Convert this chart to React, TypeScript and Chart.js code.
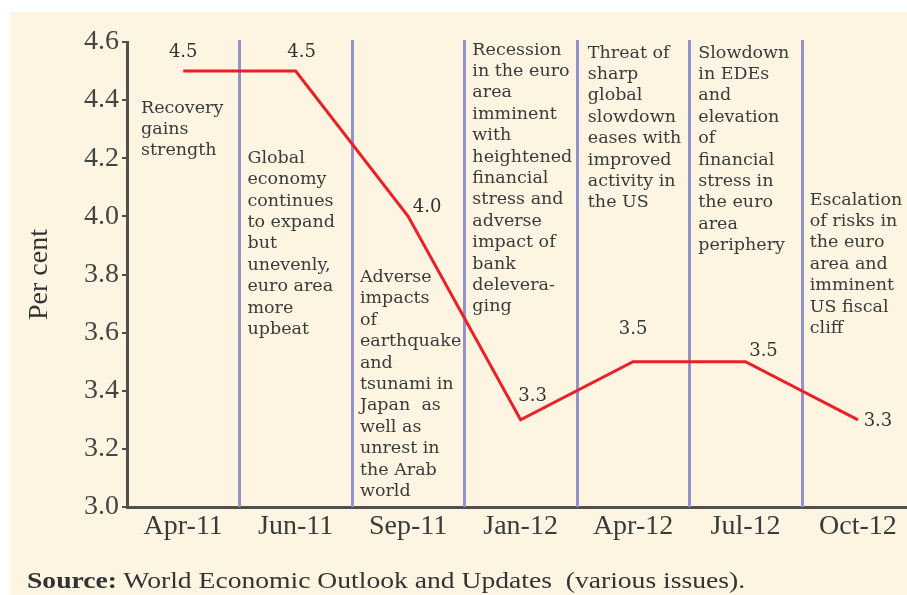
import React, { useEffect, useRef } from "react";
import { Chart, registerables } from "chart.js";

Chart.register(...registerables);

const categories = ["Apr-11", "Jun-11", "Sep-11", "Jan-12", "Apr-12", "Jul-12", "Oct-12"];
const growth = [4.5, 4.5, 4.0, 3.3, 3.5, 3.5, 3.3];
const valueLabels = ["4.5", "4.5", "4.0", "3.3", "3.5", "3.5", "3.3"];
const yTicks = [3.0, 3.2, 3.4, 3.6, 3.8, 4.0, 4.2, 4.4, 4.6];

const annotations: string[][] = [
  ["Recovery", "gains", "strength"],
  ["Global", "economy", "continues", "to expand", "but", "unevenly,", "euro area", "more", "upbeat"],
  ["Adverse", "impacts", "of", "earthquake", "and", "tsunami in", "Japan  as", "well as", "unrest in", "the Arab", "world"],
  ["Recession", "in the euro", "area", "imminent", "with", "heightened", "financial", "stress and", "adverse", "impact of", "bank", "delevera-", "ging"],
  ["Threat of", "sharp", "global", "slowdown", "eases with", "improved", "activity in", "the US"],
  ["Slowdown", "in EDEs", "and", "elevation", "of", "financial", "stress in", "the euro", "area", "periphery"],
  ["Escalation", "of risks in", "the euro", "area and", "imminent", "US fiscal", "cliff"],
];

// y-value (per cent) at which the first line of each annotation sits
const annotationTop = [4.373, 4.2, 3.79, 4.572, 4.562, 4.562, 4.056];
// placement tweaks (pixels) — layout only
const annotationIndent = [14, 8, 8, 8, 11, 9, 8];
const labelOffsets: [number, number][] = [
  [0, -19],
  [6, -19],
  [19, -9],
  [12, -23],
  [0, -32],
  [18, -10],
  [20, 2],
];

const CREAM = "#fdf5e2";

const overlayPlugin = {
  id: "overlay",
  beforeDatasetsDraw(chart: any) {
    const { ctx, chartArea, scales } = chart;
    const x = scales.x;
    const y = scales.y;
    ctx.save();
    ctx.strokeStyle = "#9393c7";
    ctx.lineWidth = 3;
    for (let i = 0; i < categories.length - 1; i++) {
      const px = Math.round(x.getPixelForValue(i + 0.5)) + 0.5;
      ctx.beginPath();
      ctx.moveTo(px, chartArea.top - 2);
      ctx.lineTo(px, chartArea.bottom);
      ctx.stroke();
    }
    ctx.font = '17.5px "DejaVu Serif"';
    ctx.fillStyle = "#3a3a3a";
    ctx.textBaseline = "middle";
    ctx.textAlign = "left";
    annotations.forEach((lines, i) => {
      const px = x.getPixelForValue(i - 0.5) + annotationIndent[i];
      const py0 = y.getPixelForValue(annotationTop[i]);
      lines.forEach((line, j) => ctx.fillText(line, px, py0 + j * 21.4));
    });
    ctx.restore();
  },
  afterDatasetsDraw(chart: any) {
    const { ctx } = chart;
    const meta = chart.getDatasetMeta(0);
    ctx.save();
    ctx.font = '18px "DejaVu Serif"';
    ctx.fillStyle = "#333";
    ctx.textBaseline = "middle";
    ctx.textAlign = "center";
    meta.data.forEach((pt: any, i: number) => {
      const [dx, dy] = labelOffsets[i];
      ctx.fillText(valueLabels[i], pt.x + dx, pt.y + dy);
    });
    ctx.restore();
  },
};

export default function App() {
  const canvasRef = useRef<HTMLCanvasElement | null>(null);

  useEffect(() => {
    if (!canvasRef.current) return;
    const chart = new Chart(canvasRef.current, {
      type: "line",
      data: {
        datasets: [
          {
            data: growth.map((v, i) => ({ x: i, y: v })),
            borderColor: "#ec1f27",
            borderWidth: 3,
            pointRadius: 0,
            tension: 0,
            fill: false,
          },
        ],
      },
      options: {
        animation: false,
        responsive: false,
        maintainAspectRatio: false,
        layout: { padding: { top: 42, left: 0, right: 0, bottom: 0 } },
        plugins: { legend: { display: false }, tooltip: { enabled: false } },
        scales: {
          x: {
            type: "linear",
            min: -0.5,
            max: 6.436,
            afterBuildTicks: (scale: any) => {
              scale.ticks = categories.map((_, i) => ({ value: i }));
            },
            afterFit: (scale: any) => {
              scale.height = 88;
            },
            ticks: {
              callback: (v: any) => categories[v as number] ?? "",
              font: { family: "Liberation Serif", size: 28 },
              color: "#3a3a3a",
              padding: 3,
              maxRotation: 0,
              autoSkip: false,
            },
            grid: { display: false, drawTicks: false },
            border: { display: true, color: "#4f4f4f", width: 3 },
          },
          y: {
            min: 3.0,
            max: 4.6,
            afterBuildTicks: (scale: any) => {
              scale.ticks = yTicks.map((v) => ({ value: v }));
            },
            afterFit: (scale: any) => {
              scale.width = 127;
            },
            ticks: {
              callback: (v: any) => Number(v).toFixed(1),
              font: { family: "Liberation Serif", size: 28 },
              color: "#444",
              padding: 3,
            },
            grid: {
              display: true,
              drawOnChartArea: false,
              drawTicks: true,
              tickLength: 5,
              color: "#4f4f4f",
              lineWidth: 2,
            },
            border: { display: true, color: "#4f4f4f", width: 3 },
            title: {
              display: true,
              text: "Per cent",
              font: { family: "Liberation Serif", size: 28 },
              color: "#333",
              padding: { top: 23, bottom: 0 },
            },
          },
        },
      },
      plugins: [overlayPlugin],
    });
    return () => chart.destroy();
  }, []);

  return (
    <div style={{ position: "absolute", left: 0, top: 0, width: 907, height: 595, background: "#fff", overflow: "hidden" }}>
      <div style={{ position: "absolute", left: 10, top: 12, width: 897, height: 583, background: CREAM }} />
      <canvas
        ref={canvasRef}
        width={907}
        height={595}
        style={{ position: "absolute", left: 0, top: 0, width: 907, height: 595 }}
      />
      <div
        style={{
          position: "absolute",
          left: 27,
          top: 568,
          fontFamily: '"Liberation Serif", serif',
          fontSize: 24,
          color: "#333",
          whiteSpace: "pre",
          lineHeight: "24px",
          transform: "scaleX(1.15)",
          transformOrigin: "left center",
        }}
      >
        <b>Source:</b>
        {" World Economic Outlook and Updates  (various issues)."}
      </div>
    </div>
  );
}
